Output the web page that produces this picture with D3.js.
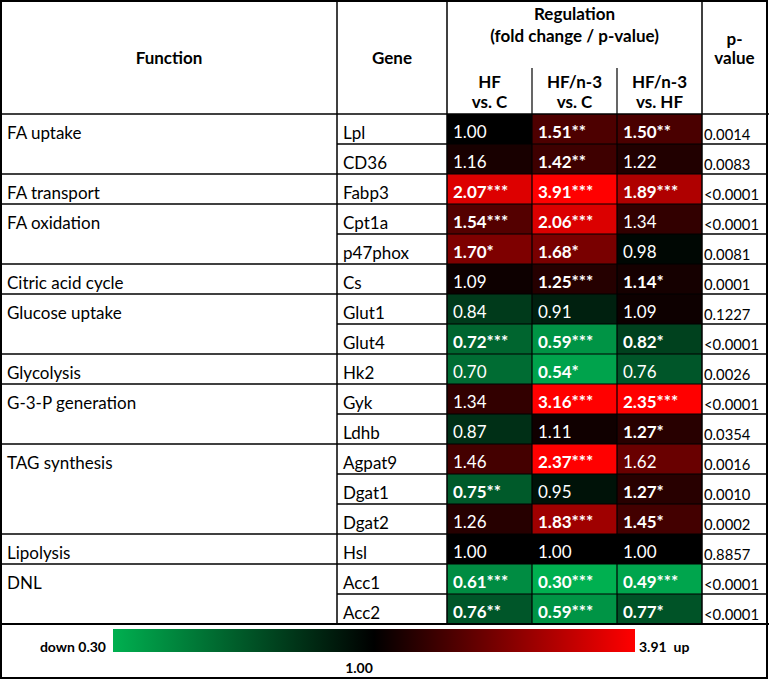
<!DOCTYPE html>
<html>
<head>
<meta charset="utf-8">
<script src="https://cdn.jsdelivr.net/npm/d3@7"></script>
<style>
  html, body { margin: 0; padding: 0; background: #fff; }
  svg { display: block; }
  text { font-family: Lato, "Open Sans", sans-serif; }
</style>
</head>
<body>
<script>
// ---------------- DATA ----------------
const functions = ["FA uptake", "FA transport", "FA oxidation", "Citric acid cycle", "Glucose uptake",
  "Glycolysis", "G-3-P generation", "TAG synthesis", "Lipolysis", "DNL"];
const functionOfGene = ["FA uptake", "FA uptake", "FA transport", "FA oxidation", "FA oxidation",
  "Citric acid cycle", "Glucose uptake", "Glucose uptake", "Glycolysis", "G-3-P generation",
  "G-3-P generation", "TAG synthesis", "TAG synthesis", "TAG synthesis", "Lipolysis", "DNL", "DNL"];
const genes = ["Lpl", "CD36", "Fabp3", "Cpt1a", "p47phox", "Cs", "Glut1", "Glut4", "Hk2", "Gyk",
  "Ldhb", "Agpat9", "Dgat1", "Dgat2", "Hsl", "Acc1", "Acc2"];
const comparisons = ["HF vs. C", "HF/n-3 vs. C", "HF/n-3 vs. HF"];
const comparisonLines = [["HF", "vs. C"], ["HF/n-3", "vs. C"], ["HF/n-3", "vs. HF"]];
const hfVsC      = [1.00, 1.16, 2.07, 1.54, 1.70, 1.09, 0.84, 0.72, 0.70, 1.34, 0.87, 1.46, 0.75, 1.26, 1.00, 0.61, 0.76];
const hfn3VsC    = [1.51, 1.42, 3.91, 2.06, 1.68, 1.25, 0.91, 0.59, 0.54, 3.16, 1.11, 2.37, 0.95, 1.83, 1.00, 0.30, 0.59];
const hfn3VsHf   = [1.50, 1.22, 1.89, 1.34, 0.98, 1.14, 1.09, 0.82, 0.76, 2.35, 1.27, 1.62, 1.27, 1.45, 1.00, 0.49, 0.77];
const starsHfVsC    = ["", "", "***", "***", "*", "", "", "***", "", "", "", "", "**", "", "", "***", "**"];
const starsHfn3VsC  = ["**", "**", "***", "***", "*", "***", "", "***", "*", "***", "", "***", "", "***", "", "***", "***"];
const starsHfn3VsHf = ["**", "", "***", "", "", "*", "", "*", "", "***", "*", "", "*", "*", "", "***", "*"];
const pValues = ["0.0014", "0.0083", "<0.0001", "<0.0001", "0.0081", "0.0001", "0.1227", "<0.0001", "0.0026",
  "<0.0001", "0.0354", "0.0016", "0.0010", "0.0002", "0.8857", "<0.0001", "<0.0001"];
const legendValues = [0.30, 1.00, 3.91];
const legendLabels = ["down 0.30", "1.00", "3.91\u00a0\u00a0up"];
const headerFunction = "Function", headerGene = "Gene";
const headerRegulation = ["Regulation", "(fold change / p-value)"];
const headerP = ["p-", "value"];

// ---------------- LAYOUT ----------------
const W = 769, H = 679;
const xFunc = [1, 337], xGene = [337, 447], xReg = [447, 702], xP = [702, 767];
const tableTop = 1, headTop = 114, bodyBottom = 624;

const svg = d3.select("body").append("svg").attr("width", W).attr("height", H);

const y = d3.scaleBand().domain(genes).range([headTop, bodyBottom]);
const x = d3.scaleBand().domain(comparisons).range(xReg);

const color = d3.scaleLinear()
  .domain([0.30, 0.55, 1.00, 1.50, 2.20])
  .range(["#00b050", "#00a24c", "#000000", "#4a0000", "#ff0000"])
  .clamp(true);

const values = [hfVsC, hfn3VsC, hfn3VsHf];
const stars = [starsHfVsC, starsHfn3VsC, starsHfn3VsHf];
const cells = [];
genes.forEach((g, i) => comparisons.forEach((c, j) => {
  cells.push({ gene: g, comp: c, v: values[j][i], s: stars[j][i] });
}));

// heat cells
svg.append("g").selectAll("rect").data(cells).join("rect")
  .attr("x", d => x(d.comp)).attr("y", d => y(d.gene))
  .attr("width", x.bandwidth()).attr("height", y.bandwidth())
  .attr("fill", d => color(d.v));

svg.append("g").selectAll("text").data(cells).join("text")
  .attr("x", d => x(d.comp) + 6).attr("y", d => y(d.gene) + 24)
  .attr("fill", "#fff").attr("font-size", 17)
  .attr("font-weight", d => d.s ? 700 : 400)
  .text(d => d.v.toFixed(2) + d.s);

// gene labels
svg.append("g").selectAll("text").data(genes).join("text")
  .attr("x", xGene[0] + 6).attr("y", d => y(d) + 25)
  .attr("font-size", 17).attr("fill", "#000").text(d => d);

// p-values
svg.append("g").selectAll("text").data(genes).join("text")
  .attr("x", xP[0] + 2).attr("y", (d) => y(d) + 26)
  .attr("font-size", 14.8).attr("fill", "#000").text((d, i) => pValues[i]);

// function labels (at first row of group)
const groups = functions.map(f => {
  const gs = genes.filter((g, i) => functionOfGene[i] === f);
  return { f, first: gs[0], last: gs[gs.length - 1] };
});
svg.append("g").selectAll("text").data(groups).join("text")
  .attr("x", 7).attr("y", d => y(d.first) + 25)
  .attr("font-size", 17).attr("fill", "#000").text(d => d.f);

// ---------------- HEADER ----------------
const hdr = svg.append("g").attr("font-weight", 700).attr("font-size", 17).attr("text-anchor", "middle");
hdr.append("text").attr("x", (xFunc[0] + xFunc[1]) / 2).attr("y", 64).text(headerFunction);
hdr.append("text").attr("x", (xGene[0] + xGene[1]) / 2).attr("y", 64).text(headerGene);
hdr.selectAll(".reg").data(headerRegulation).join("text")
  .attr("x", (xReg[0] + xReg[1]) / 2).attr("y", (d, i) => 20 + i * 22).text(d => d);
hdr.selectAll(".pv").data(headerP).join("text")
  .attr("x", (xP[0] + xP[1]) / 2).attr("y", (d, i) => 45 + i * 19).text(d => d);
comparisons.forEach((c, j) => {
  comparisonLines[j].forEach((t, k) => {
    hdr.append("text").attr("x", x(c) + x.bandwidth() / 2).attr("y", 88 + k * 20).text(t);
  });
});

// ---------------- GRID ----------------
const grid = svg.append("g").attr("stroke", "#000").attr("fill", "none");
const line = (x1, y1, x2, y2, w) => grid.append("line")
  .attr("x1", x1).attr("y1", y1).attr("x2", x2).attr("y2", y2).attr("stroke-width", w || 1.5);

line(xFunc[1], tableTop, xFunc[1], bodyBottom);
line(xGene[1], tableTop, xGene[1], bodyBottom);
line(xP[0], tableTop, xP[0], bodyBottom);
comparisons.slice(1).forEach(c => line(x(c), 68, x(c), bodyBottom, 1.2));
line(0, headTop, W, headTop);
line(0, bodyBottom, W, bodyBottom, 2);
genes.slice(1).forEach(g => line(xGene[0], y(g), xReg[0], y(g)));
genes.slice(1).forEach(g => line(xReg[0], y(g), xReg[1], y(g), 1.2));
genes.slice(1).forEach(g => line(xP[0], y(g), xP[1], y(g)));
groups.slice(1).forEach(d => line(0, y(d.first), xFunc[1], y(d.first)));
grid.append("rect").attr("x", 1).attr("y", 1).attr("width", 766).attr("height", 677).attr("stroke-width", 2);

// ---------------- LEGEND ----------------
const lx = d3.scaleLinear().domain(legendValues).range([113, 374, 635]);
const lcolor = d3.scaleLinear().domain(legendValues).range(["#00b050", "#000000", "#ff0000"]);
const grad = svg.append("defs").append("linearGradient").attr("id", "lg")
  .attr("x1", "0%").attr("x2", "100%").attr("y1", "0%").attr("y2", "0%");
grad.selectAll("stop").data(legendValues).join("stop")
  .attr("offset", d => ((lx(d) - lx.range()[0]) / (lx.range()[2] - lx.range()[0]) * 100) + "%")
  .attr("stop-color", d => lcolor(d));
svg.append("rect").attr("x", lx(legendValues[0])).attr("y", 629)
  .attr("width", lx(legendValues[2]) - lx(legendValues[0])).attr("height", 23)
  .attr("fill", "url(#lg)");
const leg = svg.append("g").attr("font-weight", 700).attr("font-size", 14);
leg.append("text").attr("x", lx(legendValues[0]) - 7).attr("y", 652).attr("text-anchor", "end").text(legendLabels[0]);
leg.append("text").attr("x", lx(legendValues[1]) - 15).attr("y", 673).attr("text-anchor", "middle").text(legendLabels[1]);
leg.append("text").attr("x", lx(legendValues[2]) + 4).attr("y", 652).attr("text-anchor", "start").text(legendLabels[2]);
</script>
</body>
</html>
